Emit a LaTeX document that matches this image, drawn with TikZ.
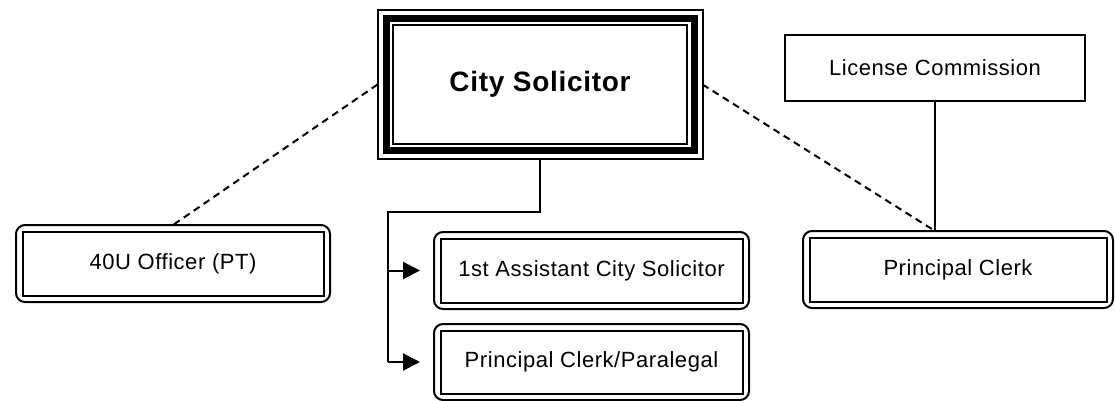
\documentclass[tikz,border=0pt]{standalone}
\usepackage{fontspec}
\setmainfont{Liberation Sans}[LetterSpace=2.5]
\usetikzlibrary{arrows.meta,calc}

\begin{document}
\begin{tikzpicture}[x=1pt,y=-1pt,
  every node/.style={inner sep=0pt, outer sep=0pt, align=center},
  lbl/.style={font=\fontsize{22}{26}\selectfont},
  % rounded outer frame with a square inner frame
  dbox/.style={draw, line width=2pt, rounded corners=9pt, lbl,
    path picture={
      \draw[line width=2pt, sharp corners]
        ([xshift=6.5pt,yshift=-6.5pt]path picture bounding box.north west) rectangle
        ([xshift=-6.5pt,yshift=6.5pt]path picture bounding box.south east);}},
  % single plain frame
  sbox/.style={draw, line width=2pt, lbl},
  % triple frame of the head position
  headbox/.style={draw, line width=2pt,
    font=\fontsize{28}{32}\selectfont\bfseries,
    path picture={
      \draw[line width=7pt]
        ([xshift=8.5pt,yshift=-8.5pt]path picture bounding box.north west) rectangle
        ([xshift=-8.5pt,yshift=8.5pt]path picture bounding box.south east);
      \draw[line width=2pt]
        ([xshift=15.5pt,yshift=-15.5pt]path picture bounding box.north west) rectangle
        ([xshift=-15.5pt,yshift=15.5pt]path picture bounding box.south east);}},
  solid link/.style={draw, line width=2pt},
  dash link/.style={draw, line width=2pt, dash pattern=on 7pt off 5pt},
  arr/.style={solid link, -{Triangle[length=17pt,width=17pt]}, shorten >=14pt}
]
\useasboundingbox (0,0) rectangle (1115,401);

% positions
\node[headbox, minimum width=325pt, minimum height=149pt] (cs) at (540,84.5) {City Solicitor};
\node[dbox, minimum width=314pt, minimum height=77pt] (fo) at (173,263.5) {40U Officer (PT)};
\node[dbox, minimum width=315pt, minimum height=77pt] (fa) at (591.5,270.5) {1st Assistant City Solicitor};
\node[dbox, minimum width=315pt, minimum height=76pt] (pcp) at (591.5,362) {Principal Clerk/Paralegal};
\node[dbox, minimum width=310pt, minimum height=77pt] (pc) at (958,269.5) {Principal Clerk};
\node[sbox, minimum width=300pt, minimum height=66pt] (lc) at (935,68) {License Commission};

% reporting lines
\coordinate (bus) at (388,212);
\coordinate (pctop) at (lc.south |- pc.north);
\path[solid link] (cs.south) |- (bus) -- (bus |- pcp.west);
\draw[arr] (bus |- fa.west) -- (fa.west);
\draw[arr] (bus |- pcp.west) -- (pcp.west);
\path[solid link] (lc.south) -- (pctop);

% dotted-line relationships
\path[dash link] (cs.west) -- (fo.north);
\path[dash link] (cs.east) -- (pctop);
\end{tikzpicture}
\end{document}
